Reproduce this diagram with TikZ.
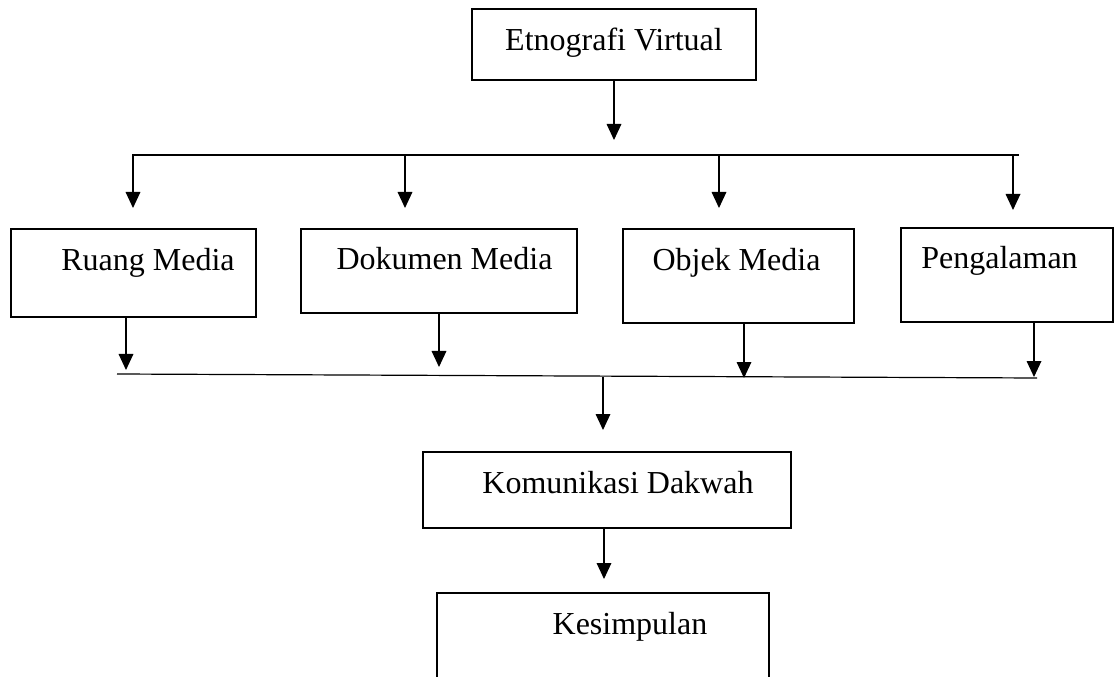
\documentclass[tikz,border=0pt]{standalone}
\usepackage{fontspec}
\setmainfont{Liberation Serif}
\usetikzlibrary{positioning}
\usetikzlibrary{arrows.meta}

\begin{document}
\begin{tikzpicture}[x=0.75pt, y=-0.75pt, line width=0.9pt, >={Triangle[length=12pt,width=11pt]},
box/.style 2 args={draw, rectangle, inner sep=0pt, minimum width={#1*0.75pt}, minimum height={#2*0.75pt}},
txt/.style={anchor=base, inner sep=0pt, font=\fontsize{24}{28}\selectfont}]
\useasboundingbox (0,0) rectangle (1114,677);

%%%%%%%%%%%%%%%%%%%%%%%% boxes
\node [box={284}{71}] (etno) at (614,44.5) {};
\node [txt] (etnot) at (614,51) {Etnografi Virtual};

\node [box={245}{88}] (ruang) at (133.5,273) {};
\node [txt] (ruangt) at (148,271) {Ruang Media};
\node [box={276}{84}] (dok) at (439,271) {};
\node [txt] (dokt) at (444.5,270) {Dokumen Media};
\node [box={231}{94}] (obj) at (738.5,276) {};
\node [txt] (objt) at (736.5,271) {Objek Media};
\node [box={212}{94}] (peng) at (1007,275) {};
\node [txt] (pengt) at (999.5,269) {Pengalaman};

\node [box={368}{76}] (kom) at (607,490) {};
\node [txt] (komt) at (618,493) {Komunikasi Dakwah};
\node [box={332}{107}] (kes) at (603,646.5) {};
\node [txt] (kest) at (630,634) {Kesimpulan};

% upper bus
\coordinate (e1) at (614,140);
\coordinate (busl) at (132,155);
\coordinate (busr) at (1019,155);
\draw [->] (etno.south -| e1) -- (e1);
\draw (busl) -- (busr);

\coordinate (r1) at (133,208);
\coordinate (d1) at (405,208);
\coordinate (o1) at (719,208);
\coordinate (p1) at (1013,210);
\draw [->] (busl -| r1) -- (r1);
\draw [->] (busl -| d1) -- (d1);
\draw [->] (busl -| o1) -- (o1);
\draw [->] (busl -| p1) -- (p1);

% lower bus
\coordinate (r2) at (126,370);
\coordinate (d2) at (439,367);
\coordinate (o2) at (744,378);
\coordinate (p2) at (1034,377);
\draw [->] (ruang.south -| r2) -- (r2);
\draw [->] (dok.south -| d2) -- (d2);
\draw [->] (obj.south -| o2) -- (o2);
\draw [->] (peng.south -| p2) -- (p2);

\coordinate (lbl) at (117,374);
\coordinate (lbr) at (1037,378);
\draw (lbl) -- (lbr);

% down to the end
\coordinate (k0) at (603,377);
\coordinate (k1) at (603,430);
\draw [->] (k0) -- (k1);
\coordinate (s1) at (604,579);
\draw [->] (kom.south -| s1) -- (s1);

\end{tikzpicture}
\end{document}
